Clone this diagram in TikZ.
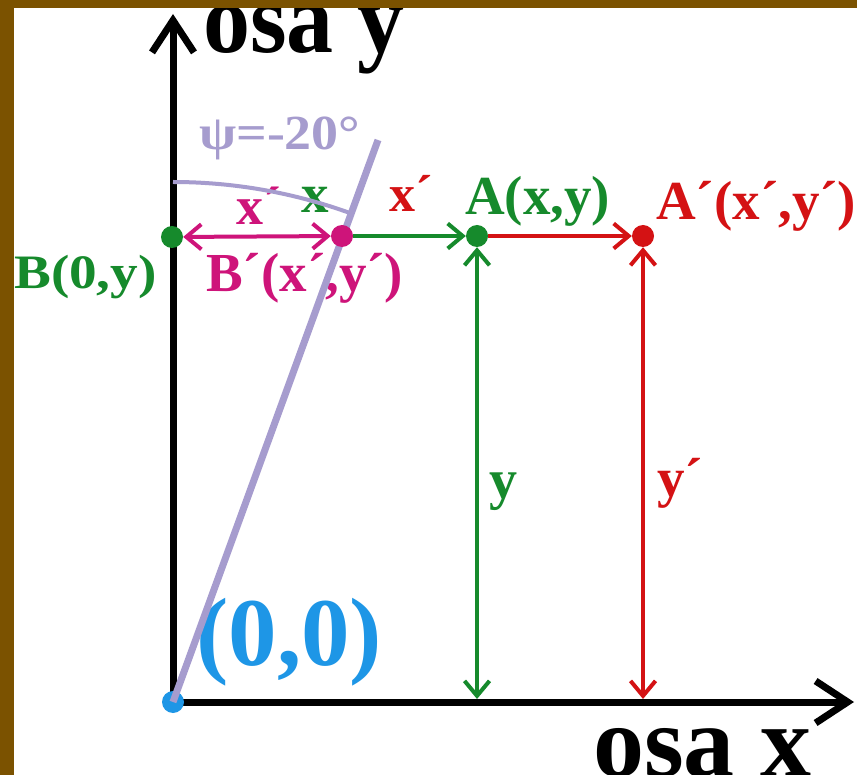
\documentclass[tikz,border=0pt]{standalone}
\usepackage{graphicx}
\usepackage{fontspec}
\setmainfont{Liberation Serif}
\usetikzlibrary{arrows.meta}
\definecolor{cgreen}{RGB}{22,138,44}
\definecolor{cred}{RGB}{212,18,20}
\definecolor{cmag}{RGB}{206,20,122}
\definecolor{clav}{RGB}{166,156,206}
\definecolor{cblue}{RGB}{30,150,230}
\definecolor{cbrown}{RGB}{123,82,0}
\newcommand\fs[1]{\fontsize{#1}{#1}\selectfont\bfseries}
\tikzset{
  bar/.tip={Straight Barb[length=15pt,width=25pt]},
  axbar/.tip={Straight Barb[length=32pt,width=42pt]},
  lbl/.style={inner sep=0pt, anchor=base west},
  dot/.style={circle, fill=#1, inner sep=0pt, minimum size=22pt},
  conn/.style={line width=4pt, draw=#1},
  axis/.style={line width=7pt, draw=black},
}
\begin{document}
\begin{tikzpicture}[x=1pt,y=-1pt]
\useasboundingbox (0,0) rectangle (857,775);
\clip (0,0) rectangle (857,775);
\fill[white] (0,0) rectangle (857,775);
% positions
\coordinate (o) at (173,702);
\coordinate (ytip) at (173,14);
\coordinate (xtip) at (854,702);
\coordinate (ltop) at (378,140);
\coordinate (arcst) at (173,182);
\coordinate (fA) at (477,699);
\coordinate (fAp) at (643,699);
% axes
\draw[axis,-axbar] (o) -- (ytip);
\draw[axis,-axbar] (o) -- (xtip);
\node[dot=cblue] (O) at (o) {};
% labels
\node[lbl] (osay) at (203,53) {\fs{100}\scalebox{0.94}[1]{osa y}};
\node[lbl] (osax) at (593,776) {\fs{102}osa x};
\node[lbl,text=cblue] (orig) at (196,665) {\fs{97}(0,0)};
\node[lbl,text=clav] (psi) at (199,150) {\fs{49}\scalebox{1.1}[1]{ψ=-20°}};
\node[lbl,text=cgreen] (Blab) at (14,289) {\fs{48}\scalebox{1.15}[1]{B(0,y)}};
\node[lbl,text=cmag] (Bplab) at (206,292) {\fs{55}B´(x´,y´)};
\node[lbl,text=cgreen] (Alab) at (465,215) {\fs{55}A(x,y)};
\node[lbl,text=cred] (Aplab) at (656,220) {\fs{55}A´(x´,y´)};
\node[lbl,text=cmag] (xpm) at (236,225) {\fs{54}x´};
\node[lbl,text=cgreen] (xg) at (301,213) {\fs{55}x};
\node[lbl,text=cred] (xpr) at (389,212) {\fs{52}x´};
\node[lbl,text=cgreen] (yg) at (489,498) {\fs{56}y};
\node[lbl,text=cred] (ypr) at (657,496) {\fs{55}y´};
% rotated axis and angle arc
\draw[line width=7pt, clav] (o) -- (ltop);
\draw[line width=4pt, clav] (arcst) arc[start angle=-90, end angle=-70, radius=520];
% points
\node[dot=cgreen] (B) at (172,237) {};
\node[dot=cmag] (Bp) at (342,236) {};
\node[dot=cgreen] (A) at (477,236) {};
\node[dot=cred] (Ap) at (643,236) {};
% connectors
\draw[conn=cgreen,-bar] (Bp) -- (A);
\draw[conn=cred,-bar] (A) -- (Ap);
\draw[conn=cmag,bar-bar] (B) -- (Bp);
\draw[conn=cgreen,bar-bar] (A) -- (fA);
\draw[conn=cred,bar-bar] (Ap) -- (fAp);
% frame
\fill[cbrown] (0,0) rectangle (857,8);
\fill[cbrown] (0,0) rectangle (14,775);
\end{tikzpicture}
\end{document}
